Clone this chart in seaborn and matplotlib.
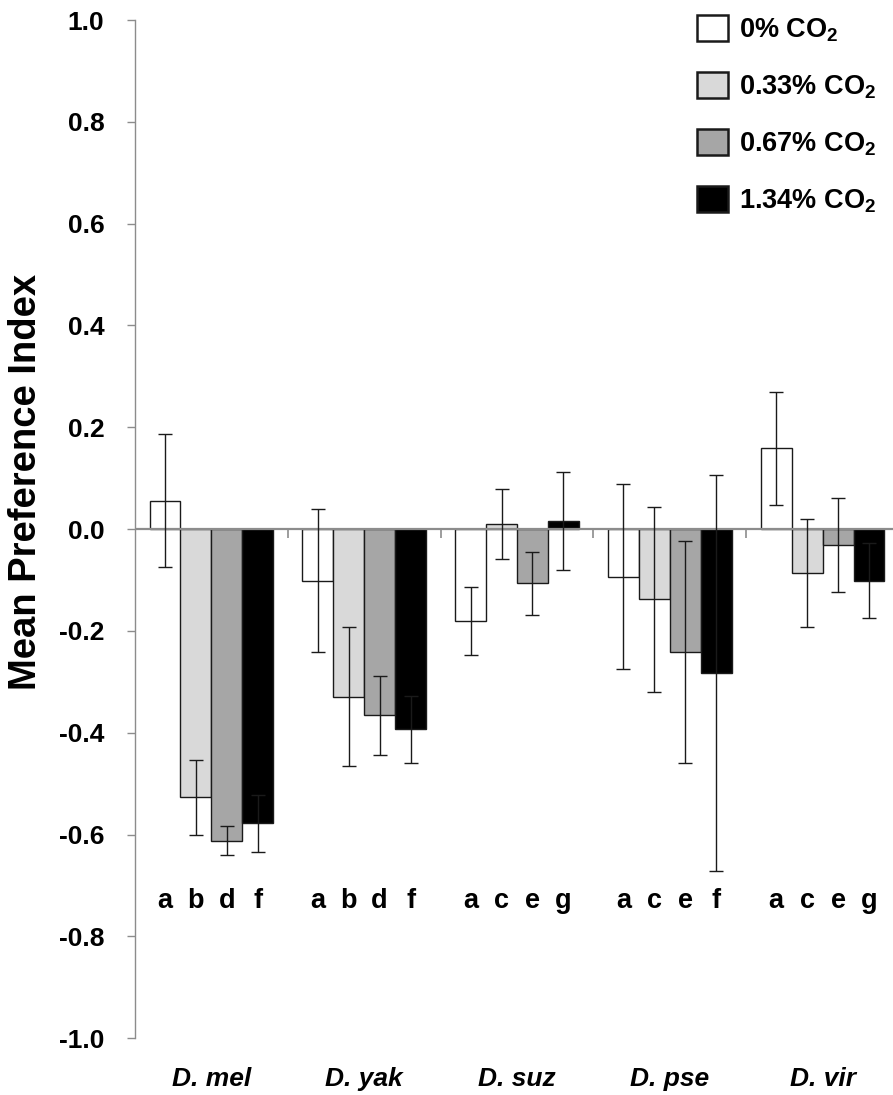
import numpy as np
import pandas as pd
import matplotlib
matplotlib.use("Agg")
import matplotlib.pyplot as plt
from matplotlib.patches import Patch
import seaborn as sns

# ---------------- data ----------------
species = ["D. mel", "D. yak", "D. suz", "D. pse", "D. vir"]
levels = ["0% CO$_2$", "0.33% CO$_2$", "0.67% CO$_2$", "1.34% CO$_2$"]

mean_0 = [0.056, -0.101, -0.180, -0.093, 0.159]
mean_033 = [-0.527, -0.329, 0.010, -0.138, -0.087]
mean_067 = [-0.612, -0.366, -0.106, -0.241, -0.031]
mean_134 = [-0.578, -0.393, 0.016, -0.282, -0.101]

se_0 = [0.130, 0.141, 0.067, 0.182, 0.111]
se_033 = [0.073, 0.137, 0.069, 0.181, 0.106]
se_067 = [0.028, 0.077, 0.062, 0.218, 0.093]
se_134 = [0.056, 0.066, 0.097, 0.389, 0.073]

letters_mel = ["a", "b", "d", "f"]
letters_yak = ["a", "b", "d", "f"]
letters_suz = ["a", "c", "e", "g"]
letters_pse = ["a", "c", "e", "f"]
letters_vir = ["a", "c", "e", "g"]

yticks = [-1.0, -0.8, -0.6, -0.4, -0.2, 0.0, 0.2, 0.4, 0.6, 0.8, 1.0]

colors = ["#ffffff", "#d9d9d9", "#a6a6a6", "#000000"]

means = [mean_0, mean_033, mean_067, mean_134]
ses = [se_0, se_033, se_067, se_134]
letters = [letters_mel, letters_yak, letters_suz, letters_pse, letters_vir]

rows = []
for lvl, mv in zip(levels, means):
    for sp, v in zip(species, mv):
        rows.append({"species": sp, "co2": lvl, "value": v})
df = pd.DataFrame(rows)

# ---------------- style ----------------
sns.set_theme(style="white")
plt.rcParams["font.family"] = ["Liberation Sans", "DejaVu Sans"]
plt.rcParams["font.weight"] = "bold"
plt.rcParams["text.color"] = "black"
plt.rcParams["xtick.labelcolor"] = "black"
plt.rcParams["ytick.labelcolor"] = "black"
plt.rcParams["axes.unicode_minus"] = False
plt.rcParams["mathtext.fontset"] = "custom"
plt.rcParams["mathtext.rm"] = "Liberation Sans:bold"
plt.rcParams["mathtext.bf"] = "Liberation Sans:bold"
plt.rcParams["mathtext.it"] = "Liberation Sans:bold:italic"

W, H = 893, 1095
fig = plt.figure(figsize=(W / 100, H / 100), dpi=100)
ax = fig.add_axes([135 / W, (H - 1038.3) / H, 764 / W, 1018.3 / H])

sns.barplot(data=df, x="species", y="value", hue="co2", order=species,
            hue_order=levels, palette=colors, saturation=1, width=0.81,
            gap=0, edgecolor="#1a1a1a", linewidth=1.0, errorbar=None,
            legend=False, ax=ax, zorder=2)

# error bars + significance letters, positioned from the drawn bars
for i, cont in enumerate(ax.containers[:len(levels)]):
    patches = sorted(cont.patches, key=lambda p: p.get_x())
    xs = [p.get_x() + p.get_width() / 2 for p in patches]
    ax.errorbar(xs, means[i], yerr=ses[i], fmt="none", ecolor="#1a1a1a",
                elinewidth=1.0, capsize=5.3, capthick=1.0, zorder=6)
    for j, x in enumerate(xs):
        ax.text(x, -0.745, letters[j][i], ha="center", va="baseline",
                fontsize=19.5, fontweight="bold", color="black")

# zero line and category separators
ax.axhline(0, color="#8c8c8c", lw=1.6, zorder=4)
ax.vlines(np.arange(len(species)) + 0.5, 0, -0.018, color="#8c8c8c",
          lw=1.2, zorder=4)

ax.set_xlim(-0.5, len(species) - 0.5)
ax.set_ylim(-1.0, 1.0)
ax.set_yticks(yticks)
ax.set_yticklabels([f"{t:.1f}" for t in yticks], fontsize=19,
                   fontweight="bold", color="black")
ax.tick_params(axis="y", direction="out", length=6, width=1.0,
               color="#8c8c8c", pad=16, left=True, labelcolor="black")
ax.set_xticks(range(len(species)))
ax.set_xticklabels(species, fontsize=19, fontweight="bold", style="italic",
                   color="black")
ax.tick_params(axis="x", length=0, pad=21, labelcolor="black")
ax.set_xlabel("")
ax.set_ylabel("")

for s in ["top", "right", "bottom"]:
    ax.spines[s].set_visible(False)
ax.spines["left"].set_color("#8c8c8c")
ax.spines["left"].set_linewidth(1.0)

fig.text(26.5 / W, 1 - 481.5 / H, "Mean Preference Index", rotation=90,
         ha="center", va="center", fontsize=27.5, fontweight="bold",
         color="black")

handles = [Patch(facecolor=c, edgecolor="#1a1a1a", linewidth=1.8)
           for c in colors]
leg = fig.legend(handles, levels, loc="upper left",
                 bbox_to_anchor=(697 / W, 1 - 15 / H), frameon=False,
                 fontsize=19.5, handlelength=1.14, handleheight=1.11,
                 handletextpad=0.42, labelspacing=1.04, borderpad=0,
                 borderaxespad=0)
for t in leg.get_texts():
    t.set_fontweight("bold")
    t.set_color("black")

fig.savefig("out.png", dpi=100, facecolor="white")
